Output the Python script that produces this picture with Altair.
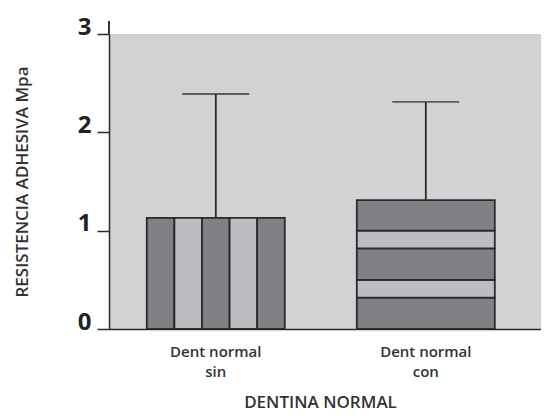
import altair as alt
import pandas as pd

categories = ["Dent normal\nsin", "Dent normal\ncon"]
means = [1.13, 1.31]
upper = [2.39, 2.31]
# vertical stripe count for "sin" bar; horizontal stripe breaks for "con" bar
sin_stripes = 5
con_breaks = [0.0, 0.32, 0.50, 0.82, 1.0, 1.31]

DARK = "#808185"
LIGHT = "#bcbdc0"
BG = "#d1d2d4"
EDGE = "#2b2b2b"

rows_v = []
for i in range(sin_stripes):
    rows_v.append({"cat": categories[0], "stripe": i, "y0": 0.0, "y1": means[0],
                   "shade": "d" if i % 2 == 0 else "l"})
rows_h = []
for i in range(len(con_breaks) - 1):
    rows_h.append({"cat": categories[1], "y0": con_breaks[i], "y1": con_breaks[i + 1],
                   "shade": "d" if i % 2 == 0 else "l"})
err = pd.DataFrame({"cat": categories, "mean": means, "upper": upper})

xscale = alt.Scale(domain=categories, paddingInner=0.343, paddingOuter=0.2, align=0.45)
yscale = alt.Scale(domain=[0, 3], nice=False)
color = alt.Color("shade:N", scale=alt.Scale(domain=["d", "l"], range=[DARK, LIGHT]), legend=None)

xaxis = alt.Axis(title="DENTINA NORMAL", labelExpr="split(datum.label, '\\n')",
                 labelAngle=0, ticks=False, labelPadding=15, labelFontSize=15,
                 labelFont="Open Sans", labelFontWeight=600, labelColor="#333",
                 labelLineHeight=20, domainColor=EDGE, domainWidth=1.5,
                 titleFont="Open Sans", titleFontSize=17, titleFontWeight=600,
                 titleColor="#333", titleX=211, titleY=73, titleBaseline="middle",
                 titleAlign="center")
yaxis = alt.Axis(title="RESISTENCIA ADHESIVA Mpa", values=[0, 1, 2, 3], format="d",
                 grid=False, tickSize=12, tickColor=EDGE, tickWidth=1.5, domainColor=EDGE,
                 domainWidth=1.5, labelFont="Open Sans", labelFontSize=24,
                 labelFontWeight="bold", labelColor="#222", labelPadding=6,
                 labelBaseline="alphabetic", titleFont="Open Sans", titleFontSize=17,
                 titleFontWeight=600, titleColor="#333", titleX=-87, titleY=147.5,
                 titleAngle=-90, titleBaseline="middle", titleAlign="center")

vbars = alt.Chart(pd.DataFrame(rows_v)).mark_bar(stroke=EDGE, strokeWidth=1.8).encode(
    x=alt.X("cat:N", scale=xscale, sort=categories, axis=xaxis),
    xOffset=alt.XOffset("stripe:O", scale=alt.Scale(paddingInner=0, paddingOuter=0)),
    y=alt.Y("y0:Q", scale=yscale, axis=yaxis),
    y2="y1:Q",
    color=color,
)
hbars = alt.Chart(pd.DataFrame(rows_h)).mark_bar(stroke=EDGE, strokeWidth=1.8).encode(
    x=alt.X("cat:N", sort=categories),
    y="y0:Q",
    y2="y1:Q",
    color=color,
)
whisk = alt.Chart(err).mark_rule(color=EDGE, strokeWidth=1.8).encode(
    x=alt.X("cat:N", sort=categories), y="mean:Q", y2="upper:Q")
caps = alt.Chart(err).mark_tick(color=EDGE, thickness=1.8, size=67).encode(
    x=alt.X("cat:N", sort=categories), y="upper:Q")
axis_ext = alt.Chart(err).mark_rule(color=EDGE, strokeWidth=1.5).encode(
    x=alt.value(0), y=alt.value(-13), y2=alt.value(0))

chart = alt.layer(vbars, hbars, whisk, caps, axis_ext).properties(
    width=432, height=295,
    autosize=alt.AutoSizeParams(type="none"),
    padding={"left": 101, "top": 26, "right": 0, "bottom": 83},
    background="white",
).configure_view(fill=BG, stroke=None)

chart.save("out.html", embed_options={"renderer": "svg", "actions": False})
